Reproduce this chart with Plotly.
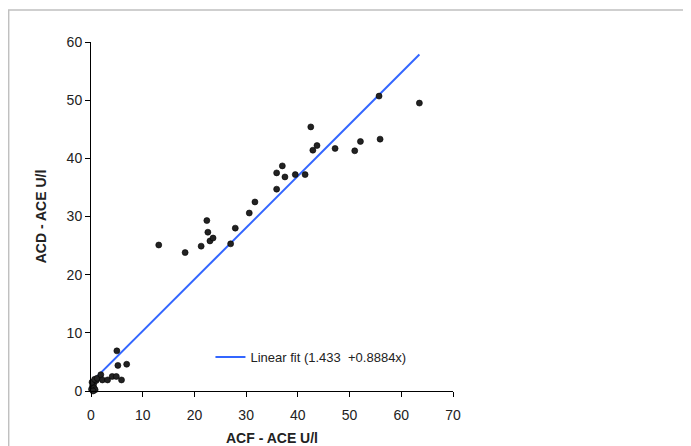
import plotly.graph_objects as go

# ACF - ACE (U/l) vs ACD - ACE (U/l)
acf = [0.1, 0.3, 0.5, 0.2, 0.6, 0.8, 0.4, 1.0, 0.7, 1.2, 1.9, 2.2, 3.2, 4.1, 4.9, 5.9,
       5.0, 5.2, 6.9,
       13.1, 18.2, 21.3, 22.4, 22.6, 23.0, 23.6, 27.0, 27.9, 30.6, 31.7,
       35.9, 35.9, 37.0, 37.5, 39.5, 41.4, 42.5, 42.9, 43.7, 47.2, 51.0, 52.1,
       55.7, 55.9, 63.5]
acd = [0.3, 0.8, 1.2, 1.5, 0.5, 0.2, 0.0, 1.8, 2.0, 2.2, 2.8, 1.9, 1.9, 2.5, 2.5, 1.9,
       6.9, 4.4, 4.6,
       25.1, 23.8, 24.9, 29.3, 27.3, 25.8, 26.3, 25.3, 28.0, 30.6, 32.5,
       34.7, 37.5, 38.7, 36.8, 37.2, 37.2, 45.4, 41.4, 42.2, 41.7, 41.3, 42.9,
       50.7, 43.3, 49.5]

fit_intercept = 1.433
fit_slope = 0.8884
fit_label = "Linear fit (1.433\u00a0 +0.8884x)"

x_ticks = [0, 10, 20, 30, 40, 50, 60, 70]
y_ticks = [0, 10, 20, 30, 40, 50, 60]

fx = [0, max(acf)]
fy = [fit_intercept + fit_slope * v for v in fx]

fig = go.Figure()
fig.add_trace(go.Scatter(
    x=fx, y=fy, mode="lines", name=fit_label,
    line=dict(color="#3366ff", width=2), showlegend=True))
fig.add_trace(go.Scatter(
    x=acf, y=acd, mode="markers", showlegend=False,
    marker=dict(size=6, color="#222222", line=dict(color="#000000", width=0.6)),
    cliponaxis=False))

font = "Liberation Sans, Arial, sans-serif"
fig.update_layout(
    width=683, height=438,
    margin=dict(l=83, r=238, t=34, b=55),
    paper_bgcolor="white", plot_bgcolor="white",
    font=dict(family=font, size=14, color="#222222"),
    showlegend=True,
    legend=dict(x=0.33, y=0.097, xanchor="left", yanchor="middle",
                bgcolor="rgba(0,0,0,0)", font=dict(size=13, color="#222222"),
                tracegroupgap=0),
    xaxis=dict(range=[0, 70], tickvals=x_ticks, showgrid=False, zeroline=False,
               showline=True, linecolor="black", linewidth=1, automargin=False,
               ticks="outside", ticklen=5, tickcolor="black",
               ticklabelstandoff=6,
               tickfont=dict(size=14, color="#222222"),
               title=dict(text="<b>ACF - ACE U/l</b>", font=dict(size=14, color="#222222"), standoff=14)),
    yaxis=dict(range=[0, 60], tickvals=y_ticks, showgrid=False, zeroline=False,
               showline=True, linecolor="black", linewidth=1, automargin=False,
               ticks="outside", ticklen=5, tickcolor="black",
               tickfont=dict(size=14, color="#222222"),
               title=dict(text="<b>ACD - ACE U/l</b>", font=dict(size=14, color="#222222"), standoff=16)),
    shapes=[dict(type="rect", xref="paper", yref="paper",
                 x0=-0.2274, x1=2.0, y0=-0.5, y1=1.0917,
                 line=dict(color="#c0c0c0", width=1.5), fillcolor="rgba(0,0,0,0)",
                 layer="below")],
)

fig.write_html("out.html")
